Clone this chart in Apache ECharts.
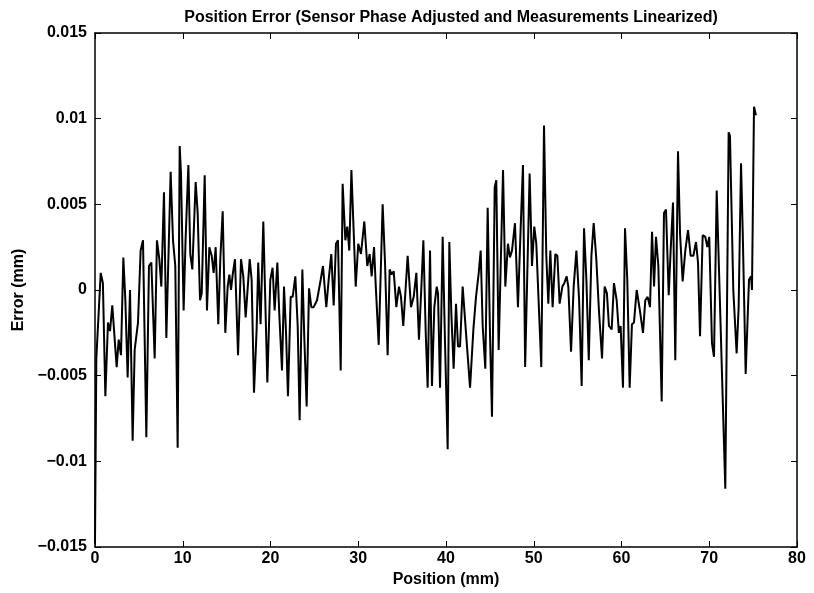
<!DOCTYPE html>
<html>
<head>
<meta charset="utf-8">
<script src="https://cdn.jsdelivr.net/npm/echarts@6/dist/echarts.min.js"></script>
<style>
html,body{margin:0;padding:0;background:#fff;}
#chart{width:814px;height:593px;}
</style>
</head>
<body>
<div id="chart"></div>
<script>
// Position (mm)
var positions = [
0,0.15,0.65,0.9,1.18,1.48,1.71,1.97,2.17,2.47,2.7,2.96,3.23,3.46,3.72,3.99,4.29,4.52,4.9,5.2,5.47,5.85,6.15,6.42,6.8,7.06,7.33,7.56,7.86,8.13,8.62,8.89,9.15,9.42,9.65,9.8,
10.1,10.32,10.64,10.86,11.09,11.47,11.7,11.97,12.16,12.5,12.76,13.03,13.3,13.52,13.75,14.05,14.28,14.55,14.85,15.12,15.31,15.5,15.69,15.95,16.3,16.64,16.9,17.17,17.63,17.85,18.12,18.42,18.6,18.87,19.18,
19.64,19.98,20.24,20.47,20.78,21.0,21.31,21.54,21.77,21.99,22.3,22.53,22.83,23.1,23.32,23.63,23.86,24.12,24.39,24.65,24.92,25.3,25.72,25.98,26.36,26.63,26.93,27.2,27.46,27.69,28.0,28.22,28.53,28.75,28.98,29.22,
29.71,30.0,30.31,30.69,31.03,31.3,31.53,31.8,31.98,32.33,32.78,33.05,33.35,33.58,33.81,34.04,34.34,34.64,34.87,35.13,35.63,36.01,36.32,36.62,36.92,37.23,37.42,37.69,37.91,38.18,38.4,38.67,38.94,
39.09,39.32,39.62,39.88,40.19,40.38,40.61,40.87,41.14,41.37,41.6,41.9,42.28,42.74,43.12,43.42,43.73,43.95,44.18,44.48,44.75,45.01,45.24,45.55,45.73,46.0,46.5,46.76,47.06,47.29,47.52,47.86,48.2,48.5,48.77,49.02,
49.53,49.8,50.06,50.29,50.86,51.17,51.43,51.66,51.89,52.15,52.46,52.69,52.95,53.26,53.48,53.75,53.94,54.25,54.55,54.86,55.17,55.46,55.73,56.0,56.27,56.57,56.83,57.13,57.43,57.78,58.08,58.34,58.57,58.88,59.14,
59.45,59.7,59.9,60.17,60.4,60.66,60.93,61.19,61.42,61.73,62.1,62.45,62.71,62.98,63.25,63.48,63.71,63.93,64.2,64.58,64.84,65.07,65.38,65.6,65.87,66.13,66.44,66.67,66.97,67.27,67.58,67.88,68.19,68.49,68.72,68.95,
69.25,69.55,69.78,70.0,70.31,70.54,70.85,71.83,72.21,72.36,72.74,73.12,73.35,73.62,73.81,74.15,74.53,74.76,74.87,75.1,75.32
];
// Error (mm)
var errors = [
-0.0148,-0.004,0.001,0.0004,-0.0062,-0.0019,-0.0024,-0.0009,-0.001,-0.0045,-0.0029,-0.0038,0.0019,-0.0006,-0.0051,0.0,-0.0088,-0.0035,-0.0019,0.0023,0.0029,-0.0086,0.0014,0.0016,-0.004,0.0029,0.0018,0.0002,0.0057,-0.0028,0.0069,0.0029,0.0014,-0.0092,0.0084,0.0068,
-0.0012,0.0029,0.0073,0.0021,0.0012,0.0063,0.0045,-0.0006,-0.0002,0.0067,-0.0012,0.0025,0.002,0.001,0.0025,-0.002,0.0018,0.0046,-0.0025,0.0002,0.0009,0.0,0.0009,0.0018,-0.0038,0.0018,0.0008,-0.0016,0.0018,0.0006,-0.006,-0.0023,0.0016,-0.002,0.004,
-0.0054,0.0006,0.0013,-0.0012,0.0016,-0.0014,-0.0047,0.0002,-0.0025,-0.0062,-0.0004,-0.0004,0.0008,-0.0021,-0.0076,0.0012,-0.0029,-0.0068,0.0001,-0.001,-0.001,-0.0006,0.0006,0.0014,-0.001,0.0006,0.0021,-0.0009,0.0027,0.0029,-0.0047,0.0062,0.0029,0.0037,0.0023,0.007,
0.0002,0.0027,0.0021,0.004,0.0014,0.0021,0.0008,0.0025,0.0004,-0.0032,0.005,0.0016,-0.0038,0.0012,0.0009,0.0011,-0.001,0.0002,-0.0004,-0.0021,0.002,-0.001,-0.0004,0.001,-0.0029,0.0006,0.0029,-0.0025,-0.0057,0.0023,-0.0056,-0.001,0.0002,
-0.0002,-0.0057,0.0031,-0.0029,-0.0093,0.0028,-0.0014,-0.0046,-0.0008,-0.0033,-0.0033,0.0002,-0.0025,-0.0057,-0.0023,-0.0004,0.001,0.0023,-0.0021,-0.0046,0.0048,-0.0025,-0.0074,0.006,0.0064,-0.0035,0.007,0.0002,0.0027,0.0019,0.0023,0.0039,-0.001,0.0035,0.0073,-0.0045,
0.0068,0.0014,0.0037,0.0027,-0.0045,0.0096,0.002,-0.0008,0.0023,-0.001,0.0021,0.002,-0.0008,0.0002,0.0004,0.0008,0.0002,-0.0036,0.0002,0.0023,-0.0006,-0.0056,0.0036,0.0006,-0.0041,0.002,0.0039,0.0018,-0.0012,-0.004,0.0002,-0.0002,-0.0021,-0.0023,0.0004,
-0.0006,-0.0025,-0.0021,-0.0057,0.0036,0.0006,-0.0057,-0.002,-0.0019,0.0,-0.0012,-0.0025,-0.0006,-0.0004,-0.001,0.0034,0.0002,0.0031,0.0014,-0.0065,0.0045,0.0047,-0.0003,0.0023,0.0051,-0.0041,0.0081,0.0033,0.0005,0.0023,0.0035,0.002,0.002,0.0028,0.0016,-0.0027,
0.0032,0.0031,0.0025,0.0031,-0.0031,-0.0039,0.0058,-0.0116,0.0092,0.009,0.0,-0.0037,-0.001,0.0074,0.0035,-0.0049,0.0006,0.0008,0.0,0.0107,0.0102
];
var xTickLabels = ['0','10','20','30','40','50','60','70','80'];
var yTickLabels = ['\u22120.015','\u22120.01','\u22120.005','0','0.005','0.01','0.015'];

var X_MIN = 0, X_MAX = 80, X_INT = 10;
var Y_MIN = -0.015, Y_MAX = 0.015, Y_INT = 0.005;

var seriesData = positions.map(function (p, i) { return [p, errors[i]]; });

var FONT = 'Liberation Sans';
var tickText = { fontFamily: FONT, fontSize: 16, fontWeight: 'bold', color: '#000' };

function xFmt(v) { var i = Math.round((v - X_MIN) / X_INT); return xTickLabels[i] !== undefined ? xTickLabels[i] : ''; }
function yFmt(v) { var i = Math.round((v - Y_MIN) / Y_INT); return yTickLabels[i] !== undefined ? yTickLabels[i] : ''; }

function axisLineStyle() { return { show: true, onZero: false, lineStyle: { color: '#000', width: 1.5 } }; }
function tickStyle() { return { show: true, inside: true, length: 6, lineStyle: { color: '#000', width: 1 } }; }

var chart = echarts.init(document.getElementById('chart'), null, { renderer: 'canvas' });
chart.setOption({
  animation: false,
  backgroundColor: '#fff',
  title: {
    text: 'Position Error (Sensor Phase Adjusted and Measurements Linearized)',
    left: 446, top: 5, textAlign: 'center',
    textStyle: { fontFamily: FONT, fontSize: 16, fontWeight: 'bold', color: '#000' }
  },
  grid: { left: 95, right: 17, top: 33, bottom: 46, containLabel: false },
  xAxis: [{
    type: 'value', min: X_MIN, max: X_MAX, interval: X_INT, position: 'bottom', gridIndex: 0,
    name: 'Position (mm)', nameLocation: 'middle', nameGap: 24,
    nameTextStyle: { fontFamily: FONT, fontSize: 16, fontWeight: 'bold', color: '#000' },
    axisLine: axisLineStyle(), axisTick: tickStyle(),
    axisLabel: Object.assign({ margin: 4, formatter: xFmt }, tickText),
    splitLine: { show: false }
  }, {
    type: 'value', min: X_MIN, max: X_MAX, interval: X_INT, position: 'top', gridIndex: 0,
    axisLine: axisLineStyle(), axisTick: tickStyle(), axisLabel: { show: false }, splitLine: { show: false }
  }],
  yAxis: [{
    type: 'value', min: Y_MIN, max: Y_MAX, interval: Y_INT, position: 'left', gridIndex: 0,
    name: 'Error (mm)', nameLocation: 'middle', nameGap: 68, nameRotate: 90,
    nameTextStyle: { fontFamily: FONT, fontSize: 16, fontWeight: 'bold', color: '#000' },
    axisLine: axisLineStyle(), axisTick: tickStyle(),
    axisLabel: Object.assign({ margin: 8, formatter: yFmt }, tickText),
    splitLine: { show: false }
  }, {
    type: 'value', min: Y_MIN, max: Y_MAX, interval: Y_INT, position: 'right', gridIndex: 0,
    axisLine: axisLineStyle(), axisTick: tickStyle(), axisLabel: { show: false }, splitLine: { show: false }
  }],
  series: [{
    type: 'line', xAxisIndex: 0, yAxisIndex: 0,
    data: seriesData, showSymbol: false, symbol: 'none',
    lineStyle: { color: '#000', width: 2 },
    emphasis: { disabled: true }
  }]
});
</script>
</body>
</html>
